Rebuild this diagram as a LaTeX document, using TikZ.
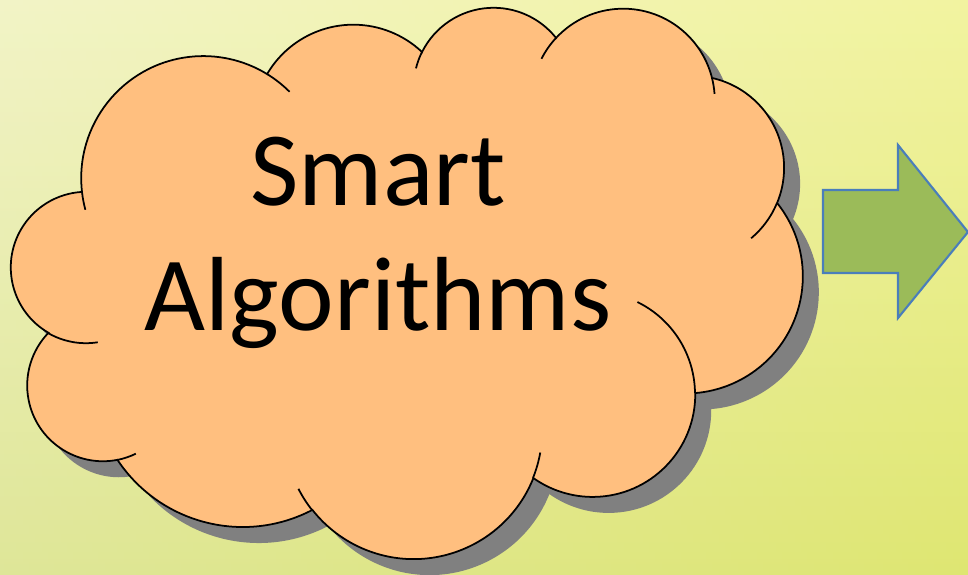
\documentclass[tikz,border=0pt]{standalone}
\usepackage{fontspec}
\setmainfont{Carlito}

\definecolor{cloudfill}{HTML}{FFBF7F}
\definecolor{cloudshadow}{HTML}{808080}
\definecolor{arrowfill}{HTML}{9BBB59}
\definecolor{arrowline}{HTML}{4A7EBB}
\definecolor{bgtop}{HTML}{EEF0B4}
\definecolor{bgbottom}{HTML}{D4DE76}

% outline of the cloud, one arc per puff
\newcommand{\cloudoutline}{(Je)
	arc[start angle=173.5, end angle=301.5, radius=122.1]
	arc[start angle=210.4, end angle=313.4, radius=100.0]
	arc[start angle=206.5, end angle=321.5, radius=79.9]
	arc[start angle=222.9, end angle=345.9, radius=91.6]
	arc[start angle=-77.5, end angle=22.5, radius=92.0]
	arc[start angle=-38.7, end angle=85.3, radius=117.2]
	arc[start angle=-0.7, end angle=125.3, radius=102.6]
	arc[start angle=21.8, end angle=141.8, radius=128.9]
	arc[start angle=62.4, end angle=146.4, radius=150.4]
	arc[start angle=79, end angle=224, radius=75.8]
	arc[start angle=120.1, end angle=267.1, radius=75.6] -- cycle}

\tikzset{
  puff/.style={fill=cloudfill, draw=black, line width=1pt},
  crease/.style={draw=black, line width=1pt},
  bigtext/.style={font=\fontsize{60}{71}\selectfont, align=center, inner sep=0pt},
  goarrow/.style={fill=arrowfill, draw=arrowline, line width=1.2pt, line join=miter}
}

\begin{document}
\begin{tikzpicture}[x=0.02cm,y=-0.02cm]

	% background
	\shade[top color=bgtop, bottom color=bgbottom] (0,0) rectangle (968,575);
	\shade[left color=white, right color=yellow!60, opacity=0.25] (0,0) rectangle (968,575);
	\useasboundingbox (0,0) rectangle (968,575);

	% junctions between the puffs
	\coordinate (Je) at (82,192);
	\coordinate (Ja) at (267,74);
	\coordinate (Jb) at (422,52);
	\coordinate (Jc) at (556,38);
	\coordinate (Jd) at (712,78);
	\coordinate (Jk) at (777,203);
	\coordinate (Jj) at (695,393);
	\coordinate (Ji) at (533,478);
	\coordinate (Jh) at (312,510);
	\coordinate (Jg) at (117,460);
	\coordinate (Jf) at (48,333);

	% cloud with its shadow
	\fill [cloudshadow, transform canvas={shift={(16,16)}}] \cloudoutline;
	\path [puff] \cloudoutline;

	% short creases inside
	\draw [crease] (Je) arc[start angle=173.5, end angle=165, radius=122.1];
	\draw [crease] (Ja) arc[start angle=301.5, end angle=315, radius=122.1];
	\draw [crease] (Jb) arc[start angle=206.5, end angle=194, radius=79.9];
	\draw [crease] (Jc) arc[start angle=222.9, end angle=207, radius=91.6];
	\draw [crease] (Jd) arc[start angle=345.9, end angle=356, radius=91.6];
	\draw [crease] (Jk) arc[start angle=22.5, end angle=50, radius=92.0];
	\draw [crease] (Jj) arc[start angle=-0.7, end angle=-64, radius=102.6];
	\draw [crease] (Ji) arc[start angle=21.8, end angle=10, radius=128.9];
	\draw [crease] (Jh) arc[start angle=141.8, end angle=153, radius=128.9];
	\draw [crease] (Jg) arc[start angle=79, end angle=64, radius=75.8];
	\draw [crease] (Jf) arc[start angle=120.1, end angle=81, radius=75.6];

	\node [bigtext] (label) at (378,243) {Smart\\Algorithms};

	% arrow
	\coordinate (tip) at (968,232);
	\draw [goarrow] (823,190) -- (898,190) -- (898,145) -- (tip)
		-- (898,318) -- (898,273) -- (823,273) -- cycle;

\end{tikzpicture}
\end{document}
